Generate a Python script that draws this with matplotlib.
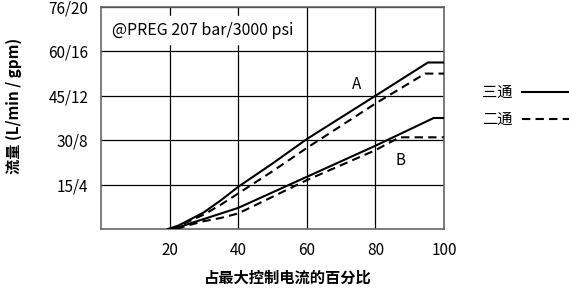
import matplotlib
matplotlib.use("Agg")
import matplotlib.pyplot as plt

plt.rcParams['font.family'] = ['Noto Sans CJK SC', 'DejaVu Sans']

# percent of max control current
x_a3 = [19.5, 22.5, 25, 27.5, 30, 35, 40, 50, 60, 80, 95.3, 100]
y_a3 = [0, 0.3, 0.7, 1.1, 1.5, 2.6, 3.8, 5.9, 8.1, 12.0, 15.0, 15.0]
x_a2 = [20.5, 22.5, 25, 27.5, 30, 35, 40, 50, 60, 80, 94.5, 100]
y_a2 = [0, 0.25, 0.6, 0.95, 1.3, 2.2, 3.2, 5.2, 7.3, 11.3, 14.0, 14.0]
x_b3 = [21, 23, 25, 27.5, 30, 35, 40, 50, 60, 80, 97, 100]
y_b3 = [0, 0.2, 0.4, 0.65, 0.9, 1.4, 1.9, 3.3, 4.7, 7.5, 10.0, 10.0]
x_b2 = [22, 23.5, 25, 27.5, 30, 35, 40, 50, 60, 80, 87, 100]
y_b2 = [0, 0.15, 0.3, 0.5, 0.7, 1.0, 1.4, 2.9, 4.4, 7.1, 8.26, 8.26]

xticks = [20, 40, 60, 80, 100]
yticks = [4, 8, 12, 16, 20]
ytick_labels = ["15/4", "30/8", "45/12", "60/16", "76/20"]

fig = plt.figure(figsize=(5.69, 2.89), dpi=100)
ax = fig.add_axes([0.1775, 0.2076, 0.6028, 0.7682])

dash = (0, (4, 2.5))
ax.plot(x_a3, y_a3, color='black', lw=1.5, zorder=3)
ax.plot(x_a2, y_a2, color='black', lw=1.5, ls=dash, zorder=3)
ax.plot(x_b3, y_b3, color='black', lw=1.5, zorder=3)
ax.plot(x_b2, y_b2, color='black', lw=1.5, ls=dash, zorder=3)

ax.set_xlim(0, 100)
ax.set_ylim(0, 20)
ax.set_xticks(xticks)
ax.set_yticks(yticks)
ax.set_yticklabels(ytick_labels)
ax.tick_params(length=0, labelsize=11, pad=9)
ax.grid(True, color='black', lw=0.9)
ax.set_axisbelow(True)
for s in ax.spines.values():
    s.set_color('#666666')
    s.set_linewidth(1.2)

ax.text(74.6, 13.0, 'A', fontsize=11, ha='center', va='center', zorder=4)
ax.text(87.2, 6.2, 'B', fontsize=11, ha='center', va='center', zorder=4)
ax.text(3.2, 17.9, '@PREG 207 bar/3000 psi', fontsize=11.5, ha='left', va='center',
        backgroundcolor='white', zorder=4)

# axis titles placed as in the reference (slightly off-centre)
fig.text(0.506, 0.038, '占最大控制电流的百分比', fontsize=11, fontweight='bold',
         ha='center', va='center')
fig.text(0.025, 0.633, '流量 (L/min / gpm)', fontsize=11, fontweight='bold',
         ha='center', va='center', rotation=90)

# legend drawn manually on the right
fig.text(0.847, 0.681, '三通', fontsize=11, ha='left', va='center')
fig.text(0.847, 0.588, '二通', fontsize=11, ha='left', va='center')
fig.add_artist(plt.Line2D([0.917, 1.0], [0.681, 0.681], color='black', lw=1.5))
fig.add_artist(plt.Line2D([0.917, 1.0], [0.588, 0.588], color='black', lw=1.5, ls=dash))

fig.savefig('out.png', dpi=100)
